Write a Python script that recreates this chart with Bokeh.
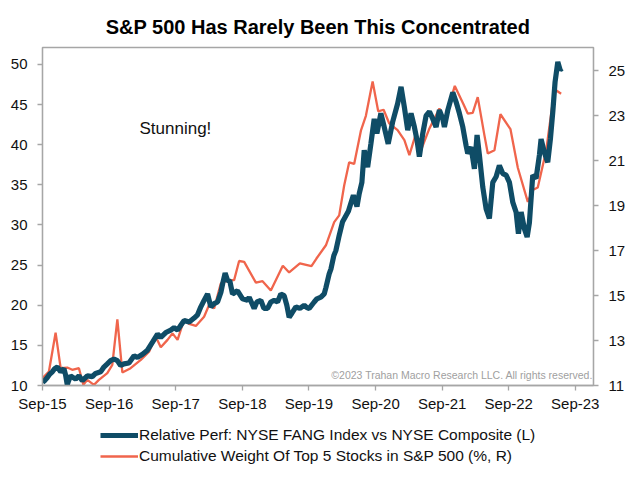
import pandas as pd
from bokeh.plotting import figure
from bokeh.layouts import column
from bokeh.models import (Range1d, LinearAxis, FixedTicker, DatetimeTickFormatter,
                          Legend, LegendItem, Label)
from bokeh.embed import file_html
from bokeh.resources import INLINE

# ---------------- data ----------------
# Relative Perf: NYSE FANG Index vs NYSE Composite (left axis); time as decimal year
fang_year = [2015.667, 2015.697, 2015.738, 2015.772, 2015.813, 2015.847, 2015.888, 2015.938,
             2015.987, 2016.013, 2016.038, 2016.058, 2016.088, 2016.163, 2016.213, 2016.264,
             2016.339, 2016.414, 2016.463, 2016.539, 2016.588, 2016.639, 2016.689, 2016.739,
             2016.790, 2016.839, 2016.889, 2016.964, 2017.039, 2017.090, 2017.166, 2017.240,
             2017.316, 2017.391, 2017.440, 2017.515, 2017.590, 2017.640, 2017.692, 2017.741,
             2017.791, 2017.866, 2017.941, 2017.992, 2018.042, 2018.091, 2018.143, 2018.192,
             2018.242, 2018.293, 2018.343, 2018.373, 2018.407, 2018.443, 2018.478, 2018.518,
             2018.593, 2018.669, 2018.744, 2018.768, 2018.843, 2018.884, 2018.944, 2018.989,
             2019.045, 2019.094, 2019.144, 2019.195, 2019.244, 2019.294, 2019.334, 2019.369,
             2019.410, 2019.470, 2019.530, 2019.595, 2019.635, 2019.670, 2019.745, 2019.786,
             2019.846, 2019.895, 2019.921, 2019.970, 2019.996, 2020.041, 2020.071, 2020.116,
             2020.172, 2020.259, 2020.334, 2020.388, 2020.422, 2020.462, 2020.497, 2020.548,
             2020.597, 2020.647, 2020.687, 2020.747, 2020.797, 2020.857, 2020.923, 2020.998,
             2021.048, 2021.097, 2021.148, 2021.198, 2021.248, 2021.289, 2021.323, 2021.374,
             2021.424, 2021.474, 2021.525, 2021.574, 2021.624, 2021.675, 2021.699, 2021.750,
             2021.825, 2021.875, 2021.924, 2021.975, 2022.025, 2022.050, 2022.100, 2022.150,
             2022.190, 2022.225, 2022.276, 2022.326, 2022.375, 2022.426, 2022.476, 2022.525,
             2022.576, 2022.626, 2022.676, 2022.727, 2022.776, 2022.811, 2022.852, 2022.901,
             2022.942, 2022.976, 2023.027, 2023.077, 2023.127, 2023.152, 2023.202, 2023.252,
             2023.292, 2023.328, 2023.362, 2023.403, 2023.438, 2023.463]
fang_value = [10.4, 10.6, 11.0, 11.4, 11.7, 12.1, 12.3, 11.7,
              12.1, 11.3, 10.1, 10.6, 11.2, 10.8, 11.2, 10.6,
              11.2, 11.1, 11.5, 11.7, 12.3, 12.7, 13.1, 13.3,
              13.1, 12.5, 12.7, 12.8, 13.7, 13.5, 13.9, 14.4,
              15.4, 16.4, 16.0, 16.6, 16.9, 17.2, 16.9, 17.5,
              18.1, 17.9, 18.4, 18.8, 19.8, 20.6, 21.4, 19.8,
              20.2, 20.4, 21.6, 22.8, 24.0, 23.1, 23.0, 21.4,
              21.8, 20.8, 20.6, 21.0, 19.6, 20.4, 20.6, 19.6,
              19.6, 20.4, 20.6, 20.4, 21.4, 21.2, 20.0, 18.5,
              19.0, 19.8, 19.6, 20.0, 19.7, 19.6, 20.4, 20.8,
              21.0, 21.4, 22.2, 23.9, 24.5, 26.2, 26.8, 28.5,
              30.4, 31.7, 33.7, 32.3, 33.9, 35.3, 39.3, 37.2,
              40.1, 43.2, 41.4, 43.9, 42.2, 40.1, 42.8, 45.1,
              47.2, 44.7, 41.8, 43.9, 42.2, 40.5, 38.5, 41.4,
              43.6, 44.1, 43.2, 42.2, 44.3, 43.2, 42.2, 44.3,
              46.5, 45.3, 43.9, 42.2, 39.9, 38.9, 39.7, 37.0,
              41.2, 38.7, 34.7, 32.0, 30.8, 35.3, 36.0, 37.4,
              36.4, 36.2, 35.3, 32.8, 31.6, 28.9, 31.6, 29.5,
              28.5, 30.3, 36.2, 35.8, 38.7, 40.7, 39.0, 37.8,
              40.7, 44.1, 47.8, 50.3, 49.3, 49.5]

# Cumulative weight of top 5 stocks in S&P 500 (%, right axis)
top5_year = [2015.667, 2015.762, 2015.862, 2015.938, 2016.038, 2016.113, 2016.213, 2016.279,
             2016.339, 2016.438, 2016.513, 2016.639, 2016.714, 2016.790, 2016.865, 2016.989,
             2017.140, 2017.264, 2017.365, 2017.440, 2017.541, 2017.616, 2017.692, 2017.791,
             2017.866, 2017.967, 2018.091, 2018.166, 2018.242, 2018.343, 2018.467, 2018.542,
             2018.617, 2018.693, 2018.869, 2018.969, 2019.094, 2019.274, 2019.369, 2019.530,
             2019.704, 2019.779, 2019.921, 2020.046, 2020.121, 2020.196, 2020.271, 2020.346,
             2020.447, 2020.522, 2020.623, 2020.707, 2020.788, 2020.873, 2020.998, 2021.098,
             2021.173, 2021.263, 2021.338, 2021.474, 2021.624, 2021.699, 2021.855, 2021.980,
             2022.050, 2022.125, 2022.200, 2022.300, 2022.351, 2022.451, 2022.541, 2022.691,
             2022.802, 2022.952, 2023.027, 2023.102, 2023.227, 2023.353, 2023.453]
top5_weight = [11.33, 11.62, 13.35, 11.77, 11.80, 11.70, 11.77, 11.03,
               11.25, 11.03, 11.25, 11.55, 11.92, 13.94, 11.58, 11.77,
               12.14, 12.50, 13.17, 12.70, 13.03, 13.32, 13.03, 13.94,
               13.74, 13.65, 14.06, 14.58, 14.43, 15.55, 15.69, 15.69,
               16.54, 16.50, 15.58, 15.64, 15.23, 16.33, 16.03, 16.43,
               16.31, 16.65, 17.24, 18.27, 18.57, 19.90, 20.93, 20.86,
               22.34, 23.00, 24.53, 23.20, 23.27, 22.66, 22.36, 21.92,
               21.25, 22.13, 21.40, 22.44, 23.33, 22.80, 24.33, 23.55,
               23.10, 23.13, 23.83, 22.14, 21.32, 21.47, 23.07, 22.41,
               20.69, 19.17, 19.70, 19.81, 21.43, 24.18, 23.98]

x_tick_years = [2015, 2016, 2017, 2018, 2019, 2020, 2021, 2022, 2023]
left_ticks = [10, 15, 20, 25, 30, 35, 40, 45, 50]
right_ticks = [11, 13, 15, 17, 19, 21, 23, 25]

title_text = "S&P 500 Has Rarely Been This Concentrated"
fang_label = "Relative Perf: NYSE FANG Index vs NYSE Composite (L)"
top5_label = "Cumulative Weight Of Top 5 Stocks in S&P 500 (%, R)"
note_text = "Stunning!"
copyright_text = "\u00a92023 Trahan Macro Research LLC. All rights reserved."


def to_dt(y):
    yr = int(y)
    start = pd.Timestamp(year=yr, month=1, day=1)
    return start + pd.Timedelta(days=(y - yr) * 365.25)


fang_dates = [to_dt(y) for y in fang_year]
top5_dates = [to_dt(y) for y in top5_year]

FONT = "Liberation Sans"
DARK = "#0F4C66"
ORANGE = "#F0654C"
AXIS_GREY = "#A6A6A6"
DARK_W = 5.2
ORANGE_W = 2.3

p = figure(frame_width=551, frame_height=338, x_axis_type="datetime",
           x_range=Range1d(pd.Timestamp("2015-09-01"), pd.Timestamp("2023-12-10")),
           y_range=Range1d(10, 52.1),
           output_backend="svg", toolbar_location=None,
           min_border_left=42, min_border_right=39, min_border_top=47, min_border_bottom=30)
p.extra_y_ranges = {"right": Range1d(11, 26.04)}

p.title.text = title_text
p.title.align = "center"
p.title.text_font = FONT
p.title.text_font_size = "20px"
p.title.text_font_style = "bold"
p.title.text_color = "#000000"
p.title.standoff = 19

p.xgrid.visible = False
p.ygrid.visible = False
p.outline_line_color = AXIS_GREY
p.outline_line_width = 1.3
p.background_fill_color = "white"
p.border_fill_color = "white"

# lines
p.line(top5_dates, top5_weight, y_range_name="right",
       line_color=ORANGE, line_width=ORANGE_W)
p.line(fang_dates, fang_value, line_color=DARK, line_width=DARK_W)

# x axis
xa = p.xaxis[0]
xa.ticker = FixedTicker(ticks=[pd.Timestamp(f"{y}-09-01").value / 1e6 for y in x_tick_years])
fmt = "%b-%y"
xa.formatter = DatetimeTickFormatter(years=fmt, months=fmt, days=fmt, hours=fmt,
                                     minutes=fmt, seconds=fmt, milliseconds=fmt,
                                     microseconds=fmt, hourmin=fmt, minsec=fmt)

# left axis
ya = p.yaxis[0]
ya.ticker = FixedTicker(ticks=left_ticks)

# right axis
ra = LinearAxis(y_range_name="right", ticker=FixedTicker(ticks=right_ticks))
p.add_layout(ra, "right")

for ax in (xa, ya, ra):
    ax.axis_line_color = AXIS_GREY
    ax.axis_line_width = 1.3
    ax.major_tick_line_color = AXIS_GREY
    ax.major_tick_line_width = 1.3
    ax.major_tick_out = 5
    ax.major_tick_in = 0
    ax.minor_tick_line_color = None
    ax.major_label_text_font = FONT
    ax.major_label_text_font_size = "15px"
    ax.major_label_text_color = "#111111"
xa.major_label_standoff = 4
ya.major_label_standoff = 10
ra.major_label_standoff = 10

# annotations
p.add_layout(Label(x=to_dt(2017.66), y=42.0, text=note_text, text_font=FONT,
                   text_font_size="17px", text_align="center", text_baseline="middle",
                   text_color="#111111"))
p.add_layout(Label(x=pd.Timestamp("2023-12-08"), y=11.25, text=copyright_text, text_font=FONT,
                   text_font_size="10.5px", text_align="right", text_baseline="middle",
                   text_color="#A0A0A0"))

# legend strip below the chart (its own small canvas so it is not clipped).
# The key renderers carry the same series; this strip's ranges keep them out of view,
# so only their legend swatches show.
lg = figure(frame_width=632, frame_height=62, x_range=Range1d(0, 1), y_range=Range1d(0, 1),
            output_backend="svg", toolbar_location=None,
            x_axis_location=None, y_axis_location=None,
            min_border_left=0, min_border_right=0, min_border_top=0, min_border_bottom=0)
lg.xgrid.visible = False
lg.ygrid.visible = False
lg.outline_line_color = None
lg.background_fill_color = "white"
lg.border_fill_color = "white"
key_fang = lg.line(fang_dates, fang_value, line_color=DARK, line_width=DARK_W)
key_top5 = lg.line(top5_dates, top5_weight, line_color=ORANGE, line_width=ORANGE_W)

legend = Legend(items=[LegendItem(label=fang_label, renderers=[key_fang]),
                       LegendItem(label=top5_label, renderers=[key_top5])],
                location=(100, 12), orientation="vertical",
                label_text_font=FONT, label_text_font_size="15.5px", label_text_color="#111111",
                glyph_width=38, glyph_height=18, label_height=18, label_standoff=1,
                spacing=3, padding=0, margin=0, border_line_color=None,
                background_fill_alpha=0)
lg.add_layout(legend, "center")

layout = column(p, lg, spacing=0)
open("out.html", "w").write(file_html(layout, INLINE))
